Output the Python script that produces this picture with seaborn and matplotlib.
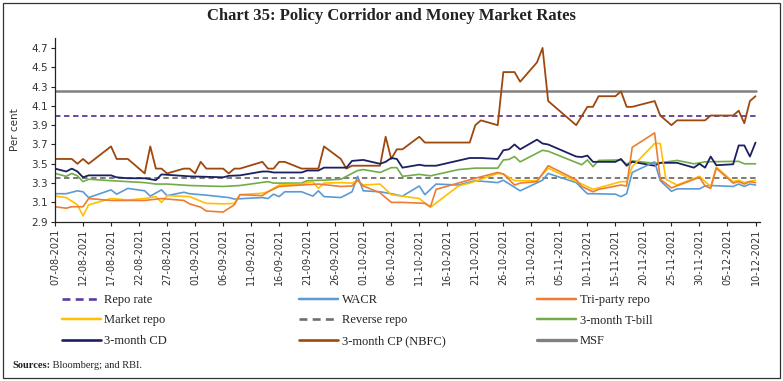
import matplotlib
matplotlib.use("Agg")
import matplotlib.pyplot as plt
import matplotlib.dates as mdates
from matplotlib.lines import Line2D
from matplotlib.patches import Rectangle
import seaborn as sns
import pandas as pd

# ---------------- data (dates are MM-DD in 2021) ----------------
policy_dates = ["08-07", "12-10"]
repo_rate = [4.00, 4.00]
reverse_repo = [3.35, 3.35]
msf = [4.25, 4.25]

cp_dates = ["08-07","08-10","08-11","08-12","08-13","08-17","08-18","08-20","08-23","08-24",
            "08-25","08-26","08-27","08-30","08-31","09-01","09-02","09-03","09-06","09-07",
            "09-08","09-09","09-13","09-14","09-15","09-16","09-17","09-20","09-23","09-24",
            "09-27","09-28","09-29","10-04","10-05","10-06","10-07","10-08","10-11","10-12",
            "10-20","10-21","10-22","10-25","10-26","10-28","10-29","11-01","11-02","11-03",
            "11-08","11-10","11-11","11-12","11-15","11-16","11-17","11-18","11-22","11-23",
            "11-25","11-26","12-01","12-02","12-06","12-07","12-08","12-09","12-10"]
cp_vals = [3.55,3.55,3.50,3.55,3.50,3.68,3.55,3.55,3.40,3.68,
           3.45,3.45,3.40,3.45,3.45,3.40,3.52,3.45,3.45,3.40,
           3.45,3.45,3.52,3.45,3.45,3.52,3.52,3.45,3.45,3.68,
           3.55,3.45,3.48,3.48,3.78,3.55,3.65,3.65,3.78,3.72,
           3.72,3.90,3.95,3.90,4.45,4.45,4.35,4.55,4.70,4.15,
           3.90,4.09,4.09,4.20,4.20,4.25,4.09,4.09,4.15,4.00,
           3.90,3.95,3.95,4.00,4.00,4.05,3.92,4.15,4.20]

cd_dates = ["08-07","08-09","08-10","08-11","08-12","08-13","08-17","08-18","08-20","08-23",
            "08-25","08-26","08-31","09-06","09-07","09-09","09-13","09-14","09-15","09-20",
            "09-21","09-23","09-24","09-27","09-28","09-29","10-01","10-04","10-05","10-06",
            "10-07","10-08","10-11","10-12","10-14","10-20","10-22","10-25","10-26","10-27",
            "10-28","10-29","11-01","11-02","11-03","11-08","11-09","11-10","11-11","11-15",
            "11-16","11-17","11-18","11-22","11-23","11-26","11-29","11-30","12-01","12-02",
            "12-03","12-06","12-07","12-08","12-09","12-10"]
cd_vals = [3.45,3.42,3.45,3.42,3.36,3.38,3.38,3.36,3.35,3.35,
           3.33,3.39,3.37,3.36,3.375,3.38,3.42,3.42,3.41,3.41,
           3.43,3.43,3.46,3.46,3.46,3.53,3.54,3.50,3.52,3.56,
           3.55,3.46,3.49,3.48,3.48,3.56,3.56,3.55,3.64,3.65,
           3.70,3.65,3.75,3.71,3.70,3.575,3.57,3.585,3.52,3.52,
           3.55,3.48,3.52,3.48,3.51,3.51,3.46,3.50,3.46,3.575,
           3.485,3.495,3.69,3.69,3.575,3.72]

tb_dates = ["08-07","08-09","08-10","08-11","08-12","08-13","08-17","08-23","08-25","08-27",
            "08-31","09-06","09-09","09-14","09-15","09-20","09-21","09-24","09-27","09-30",
            "10-01","10-04","10-06","10-07","10-08","10-11","10-13","10-18","10-21","10-25",
            "10-26","10-27","10-28","10-29","11-02","11-03","11-09","11-10","11-11","11-12",
            "11-16","11-17","11-18","11-22","11-23","11-26","11-29","12-01","12-06","12-07",
            "12-08","12-10"]
tb_vals = [3.40,3.37,3.40,3.375,3.315,3.34,3.325,3.305,3.29,3.29,
           3.275,3.265,3.275,3.315,3.30,3.30,3.325,3.33,3.34,3.43,
           3.44,3.41,3.46,3.46,3.37,3.39,3.375,3.44,3.455,3.455,
           3.54,3.545,3.575,3.52,3.64,3.63,3.49,3.54,3.47,3.535,
           3.54,3.495,3.53,3.505,3.51,3.535,3.50,3.52,3.525,3.525,
           3.50,3.50]

wacr_dates = ["08-07","08-09","08-11","08-12","08-13","08-17","08-18","08-20","08-23","08-24",
              "08-26","08-27","08-30","08-31","09-02","09-03","09-07","09-08","09-13","09-14",
              "09-15","09-16","09-17","09-20","09-22","09-23","09-24","09-27","09-29","09-30",
              "10-01","10-04","10-06","10-08","10-11","10-12","10-14","10-18","10-21","10-25",
              "10-26","10-29","11-02","11-03","11-08","11-09","11-10","11-11","11-15","11-16",
              "11-17","11-18","11-22","11-23","11-25","11-26","11-30","12-01","12-02","12-06",
              "12-07","12-08","12-09","12-10"]
wacr_vals = [3.19,3.19,3.22,3.21,3.15,3.23,3.185,3.245,3.22,3.165,
             3.23,3.17,3.205,3.19,3.18,3.175,3.15,3.135,3.15,3.14,
             3.185,3.16,3.21,3.21,3.165,3.22,3.16,3.15,3.21,3.37,
             3.22,3.21,3.19,3.165,3.27,3.18,3.29,3.28,3.325,3.305,
             3.33,3.22,3.33,3.40,3.305,3.245,3.19,3.19,3.185,3.16,
             3.19,3.41,3.52,3.325,3.215,3.24,3.24,3.27,3.275,3.265,
             3.29,3.265,3.29,3.28]

tri_dates = ["08-07","08-09","08-10","08-12","08-13","08-17","08-23","08-26","08-30","08-31",
             "09-02","09-03","09-06","09-08","09-09","09-13","09-14","09-16","09-20","09-23",
             "09-27","09-29","09-30","10-01","10-04","10-06","10-08","10-12","10-13","10-14",
             "10-21","10-25","10-26","10-28","10-29","11-01","11-03","11-08","11-09","11-11",
             "11-12","11-16","11-17","11-18","11-22","11-23","11-25","11-30","12-01","12-02",
             "12-03","12-06","12-07","12-08","12-09","12-10"]
tri_vals = [3.055,3.04,3.055,3.055,3.14,3.12,3.12,3.14,3.12,3.085,
            3.05,3.01,3.00,3.075,3.18,3.17,3.21,3.265,3.28,3.29,
            3.265,3.27,3.33,3.27,3.20,3.10,3.10,3.09,3.055,3.235,
            3.35,3.41,3.395,3.28,3.30,3.315,3.48,3.335,3.265,3.21,
            3.235,3.28,3.27,3.67,3.82,3.34,3.25,3.36,3.27,3.245,
            3.455,3.30,3.315,3.29,3.315,3.305]

mkt_dates = ["08-07","08-09","08-11","08-12","08-13","08-17","08-20","08-23","08-25","08-26",
             "08-27","08-31","09-03","09-06","09-08","09-09","09-13","09-14","09-16","09-20",
             "09-22","09-23","09-24","09-27","09-29","09-30","10-01","10-04","10-06","10-08",
             "10-11","10-13","10-18","10-20","10-25","10-26","10-28","11-01","11-03","11-09",
             "11-11","11-16","11-17","11-18","11-22","11-23","11-24","11-26","11-30","12-01",
             "12-02","12-03","12-06","12-07","12-08","12-10"]
mkt_vals = [3.165,3.15,3.075,2.96,3.075,3.14,3.125,3.14,3.16,3.10,
            3.17,3.16,3.09,3.085,3.09,3.18,3.195,3.21,3.28,3.29,
            3.315,3.245,3.30,3.305,3.30,3.325,3.28,3.29,3.18,3.165,
            3.14,3.05,3.27,3.30,3.40,3.395,3.325,3.325,3.455,3.29,
            3.235,3.315,3.315,3.47,3.71,3.71,3.34,3.28,3.37,3.315,
            3.265,3.465,3.315,3.33,3.305,3.33]

y_ticks = [2.9, 3.1, 3.3, 3.5, 3.7, 3.9, 4.1, 4.3, 4.5, 4.7]

def to_dates(md):
    return pd.to_datetime(["2021-" + s for s in md])

# name, dates, values, colour, linestyle, width
series = [
    ("Repo rate", policy_dates, repo_rate, "#5E3C99", (0, (3, 2)), 1.3),
    ("WACR", wacr_dates, wacr_vals, "#5B9BD5", "-", 1.2),
    ("Tri-party repo", tri_dates, tri_vals, "#ED7D31", "-", 1.2),
    ("Market repo", mkt_dates, mkt_vals, "#FFC000", "-", 1.2),
    ("Reverse repo", policy_dates, reverse_repo, "#6F6F6F", (0, (3, 2)), 1.3),
    ("3-month T-bill", tb_dates, tb_vals, "#70AD47", "-", 1.2),
    ("3-month CD", cd_dates, cd_vals, "#1C2060", "-", 1.3),
    ("3-month CP (NBFC)", cp_dates, cp_vals, "#9E480E", "-", 1.3),
    ("MSF", policy_dates, msf, "#808080", "-", 1.8),
]

sns.set_style("white")
plt.rcParams["font.family"] = ["DejaVu Sans"]

fig = plt.figure(figsize=(7.83, 3.81), dpi=100)
ax = fig.add_axes([55 / 783, 1 - 221.7 / 381, 705 / 783, (221.7 - 38.3) / 381])

handles = {}
draw_order = ["MSF", "Repo rate", "Reverse repo", "3-month CP (NBFC)", "3-month T-bill",
              "3-month CD", "WACR", "Market repo", "Tri-party repo"]
lookup = {s[0]: s for s in series}
for name in draw_order:
    _, d, v, c, ls, lw = lookup[name]
    df = pd.DataFrame({"date": to_dates(d), "value": v})
    sns.lineplot(data=df, x="date", y="value", ax=ax, color=c, linewidth=lw,
                 linestyle=ls, legend=False, sort=True, errorbar=None)
for name, d, v, c, ls, lw in series:
    handles[name] = Line2D([], [], color=c, linestyle=ls, linewidth=lw + 0.6)

start = pd.Timestamp("2021-08-07")
end = pd.Timestamp("2021-12-10")
ax.set_xlim(mdates.date2num(start), mdates.date2num(end) + 0.8)
ax.set_ylim(2.9, 4.8)
ax.set_yticks(y_ticks)
ax.set_yticklabels([f"{t:.1f}" for t in y_ticks], fontsize=7.5, color="#333333")
tick_dates = pd.date_range(start, end, freq="5D")
ax.set_xticks(mdates.date2num(tick_dates))
ax.set_xticklabels([t.strftime("%d-%m-%Y") for t in tick_dates], rotation=90,
                   fontsize=7, color="#333333")
ax.tick_params(axis="both", direction="out", length=3, width=0.8, color="#222222", pad=2)
ax.tick_params(axis="x", bottom=True)
ax.tick_params(axis="y", left=True)
for s in ["top", "right"]:
    ax.spines[s].set_visible(False)
for s in ["left", "bottom"]:
    ax.spines[s].set_color("#222222")
    ax.spines[s].set_linewidth(0.9)
ax.set_xlabel("")
ax.set_ylabel("Per cent", fontsize=7.5, color="#333333")
ax.yaxis.set_label_coords(-35 / 705, 0.5)
ax.grid(False)

# legend in three columns (row-major order as in the reference)
cols = [["Repo rate", "Market repo", "3-month CD"],
        ["WACR", "Reverse repo", "3-month CP (NBFC)"],
        ["Tri-party repo", "3-month T-bill", "MSF"]]
col_x = [62, 299, 537]
for names, x in zip(cols, col_x):
    fig.legend([handles[n] for n in names], names, loc="upper left",
               bbox_to_anchor=(x / 783, 1 - 294 / 381), frameon=False,
               prop={"family": "Liberation Serif", "size": 9}, handlelength=3.1,
               handletextpad=0.3, labelspacing=0.68, borderpad=0, borderaxespad=0,
               labelcolor="#222222")

fig.text(0.5, 1 - 16 / 381, "Chart 35: Policy Corridor and Money Market Rates",
         ha="center", va="center", fontsize=12, family="Liberation Serif",
         weight="bold", color="#222222")

t1 = fig.text(12 / 783, 1 - 366 / 381, "Sources:", ha="left", va="center",
              fontsize=7.5, family="Liberation Serif", weight="bold", color="#222222")
ax.annotate(" Bloomberg; and RBI.", xy=(1, 0.5), xycoords=t1, ha="left",
            va="center", fontsize=7.5, family="Liberation Serif", color="#222222",
            annotation_clip=False)

fig.patches.append(Rectangle((3 / 783, 3 / 381), 777 / 783, 375 / 381,
                             transform=fig.transFigure, fill=False,
                             edgecolor="#333333", linewidth=0.9))

fig.savefig("out.png", dpi=100)
